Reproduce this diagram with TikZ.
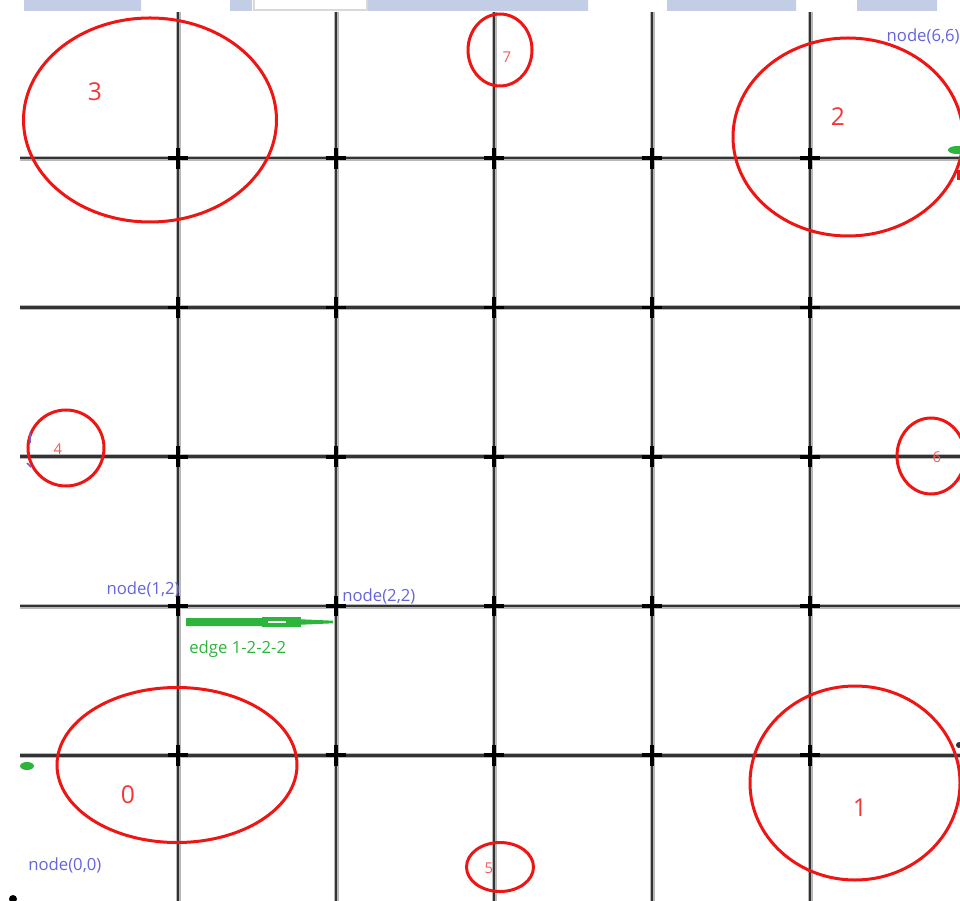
\documentclass[tikz,border=0pt]{standalone}
\usepackage{fontspec}
\setmainfont{Open Sans}
\usetikzlibrary{calc,shapes.misc,shapes.geometric}
\definecolor{gridgray}{HTML}{333333}
\definecolor{gridhalo}{HTML}{B8B8B8}
\definecolor{ringred}{HTML}{EE1515}
\definecolor{tagblue}{HTML}{6464DC}
\definecolor{edgegreen}{HTML}{2DB43C}
\definecolor{markblue}{HTML}{C3CEE6}
\tikzset{
  halo/.style={draw=gridhalo, line width=1.0mm},
  gline/.style={draw=gridgray, line width=0.5mm},
  gridpt/.style={cross out, rotate=45, draw=black, line width=0.75mm, minimum size=2.2mm, inner sep=0pt},
  ring/.style={ellipse, draw=ringred, line width=0.6mm, inner sep=0pt},
  ringno/.style={text=ringred!85, font=\fontsize{14}{14}\selectfont, inner sep=0pt},
  ringsm/.style={text=ringred!70, font=\fontsize{8.5}{9}\selectfont, inner sep=0pt},
  tag/.style={text=tagblue, font=\fontsize{9.5}{10}\selectfont, inner sep=0pt},
  wire/.style={draw=edgegreen},
}
\begin{document}
\begin{tikzpicture}[x=0.2mm, y=-0.2mm]
  \useasboundingbox (0,0) rectangle (960,901);
  % faded strip at the top
  \fill[markblue] (24,0) rectangle (141,11) (230,0) rectangle (252,11)
    (367,0) rectangle (588,11) (667,0) rectangle (796,11) (857,0) rectangle (937,11);
  \draw[gray!30, line width=0.3mm] (254,-2) rectangle (367,10);
  % grid lines
  \foreach \i in {1,...,5} {
    \draw[halo] ({20+158*\i},12) -- ({20+158*\i},901);
    \draw[halo] (20,{904.5-149.25*\i}) -- (960,{904.5-149.25*\i});
  }
  \foreach \i in {1,...,5} {
    \draw[gline] ({20+158*\i},12) -- ({20+158*\i},901);
    \draw[gline] (20,{904.5-149.25*\i}) -- (960,{904.5-149.25*\i});
  }
  % grid nodes
  \coordinate (n00) at (20,904.5);
  \coordinate (n66) at (968,9);
  \foreach \i in {1,...,5}\foreach \j in {1,...,5}
    \node[gridpt] (n\i\j) at ({20+158*\i},{904.5-149.25*\j}) {};
  % regions
  \node[ring, minimum width=50.6mm, minimum height=40.8mm] (c3) at (150,120) {};
  \node[ring, minimum width=46mm, minimum height=39.6mm] (c2) at (848,137) {};
  \node[ring, minimum width=12.8mm, minimum height=14.4mm] (c7) at (500,50) {};
  \node[ring, minimum width=15.2mm, minimum height=15.2mm] (c4) at (66,448) {};
  \node[ring, minimum width=13.6mm, minimum height=15.2mm] (c6) at (931,456) {};
  \node[ring, minimum width=48mm, minimum height=31mm] (c0) at (177,765) {};
  \node[ring, minimum width=42mm, minimum height=38.8mm] (c1) at (855,783) {};
  \node[ring, minimum width=13.4mm, minimum height=9.8mm] (c5) at (500,867) {};
  \node[ringno] (l3) at (95,92) {3};
  \node[ringno] (l2) at (838,117) {2};
  \node[ringno] (l0) at (128,795) {0};
  \node[ringno] (l1) at (860,808) {1};
  \node[ringsm] (l7) at (507,57) {7};
  \node[ringsm] (l4) at (58,449) {4};
  \node[ringsm] (l6) at (937,457) {6};
  \node[ringsm] (l5) at (489,868) {5};
  % node tags
  \node[tag, anchor=east] (t66) at (960,36) {node(6,6)};
  \node[tag, anchor=south east] (t12) at ($(n12)+(2,-9)$) {node(1,2)};
  \node[tag, anchor=south west] (t22) at ($(n22)+(6,-2)$) {node(2,2)};
  \node[tag, anchor=west] (t00) at (28,865) {node(0,0)};
  % edge 1-2-2-2
  \coordinate (e0) at ($(n12)+(8,16)$);
  \coordinate (e1) at ($(n22)+(-3,16)$);
  \draw[wire, line width=1.6mm] (e0) -- ($(e0)!0.75!(e1)$);
  \draw[wire, line width=2.0mm] ($(e0)!0.52!(e1)$) -- ($(e0)!0.78!(e1)$);
  \draw[white, line width=0.5mm] ($(e0)!0.56!(e1)$) -- ($(e0)!0.68!(e1)$);
  \fill[edgegreen] ($(e0)!0.77!(e1)+(0,-2.8)$) -- ($(e1)+(0,-1.3)$)
    -- ($(e1)+(0,1.3)$) -- ($(e0)!0.77!(e1)+(0,2.8)$) -- cycle;
  \node[text=edgegreen, font=\fontsize{9.5}{10}\selectfont, inner sep=0pt, anchor=north west] (te) at ($(e0)+(3,18)$) {edge 1-2-2-2};
  % stray marks
  \fill[edgegreen] (27,766) ellipse [x radius=7, y radius=4];
  \fill[edgegreen] (957,150) ellipse [x radius=9, y radius=4];
  \draw[tagblue, line width=0.3mm] (30,433) -- (30,443) (27,463) -- (31,467);
  \fill[ringred] (957,170) rectangle (960,180);
  \fill[gridgray] (959,745) circle [radius=3];
  \fill[black] (13,899) circle [radius=4];
\end{tikzpicture}
\end{document}
